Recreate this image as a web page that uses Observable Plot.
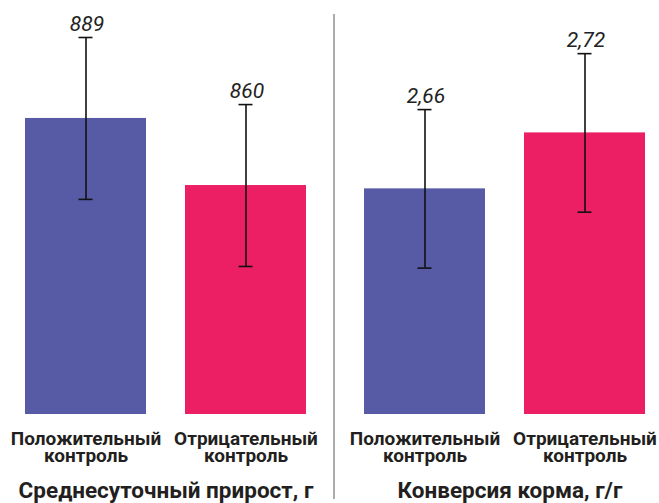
<!DOCTYPE html>
<html><head><meta charset="utf-8">
<script src="https://cdn.jsdelivr.net/npm/d3@7"></script>
<script src="https://cdn.jsdelivr.net/npm/@observablehq/plot@0.6"></script>
<style>
body{margin:0;background:#fff;}
#wrap{position:relative;width:659px;height:503px;overflow:hidden;font-family:Roboto,sans-serif;background:#fff;}
#left{position:absolute;left:0;top:0;}
#right{position:absolute;left:335px;top:0;}
#sep{position:absolute;left:333px;top:14px;width:2px;height:485px;background:#acacac;}
.title{position:absolute;top:476px;font-weight:700;font-size:22.5px;line-height:28px;color:#231f20;text-align:center;white-space:nowrap;}
</style></head>
<body><div id="wrap">
<div id="left"></div>
<div id="right"></div>
<div id="sep"></div>
<div class="title" id="t1" style="left:0;width:332px;"></div>
<div class="title" id="t2" style="left:362px;width:296px;"></div>
</div>
<script>
const categories = ["Положительный контроль", "Отрицательный контроль"];
const colors = ["#575ba6", "#ed1f64"];

const gainTitle = "Среднесуточный прирост, г";
const gainValues = [889, 860];
const gainErrors = [35, 35];
const gainLabels = ["889", "860"];
const gainDomain = [761, 940];

const fcrTitle = "Конверсия корма, г/г";
const fcrValues = [2.66, 2.72];
const fcrErrors = [0.085, 0.085];
const fcrLabels = ["2,66", "2,72"];
const fcrDomain = [2.418, 2.862];

function panel(values, errors, labels, domain, width, ml, mr) {
  const data = categories.map((c, i) => ({
    cat: c, value: values[i], lo: values[i] - errors[i], hi: values[i] + errors[i], label: labels[i]
  }));
  const capInset = 53.5;
  return Plot.plot({
    width, height: 470,
    marginTop: 0, marginBottom: 56, marginLeft: ml, marginRight: mr,
    style: {fontFamily: "Roboto, sans-serif", overflow: "visible", background: "transparent"},
    x: {domain: categories, paddingInner: 0.244, paddingOuter: 0},
    y: {domain, axis: null},
    color: {domain: categories, range: colors},
    marks: [
      Plot.barY(data, {x: "cat", y1: domain[0], y2: "value", fill: "cat"}),
      Plot.ruleX(data, {x: "cat", y1: "lo", y2: "hi", stroke: "#111", strokeWidth: 1.6}),
      Plot.tickY(data, {x: "cat", y: "lo", stroke: "#111", strokeWidth: 1.6, insetLeft: capInset, insetRight: capInset}),
      Plot.tickY(data, {x: "cat", y: "hi", stroke: "#111", strokeWidth: 1.6, insetLeft: capInset, insetRight: capInset}),
      Plot.text(data, {x: "cat", y: "hi", text: "label", lineAnchor: "bottom", dy: -7, dx: 1,
        fontSize: 21, fontStyle: "italic", fill: "#222"}),
      Plot.axisX({tickSize: 0, tickPadding: 17.5, tickFormat: d => d.replace(" ", "\n"),
        fontSize: 19, fontWeight: "bold", lineHeight: 0.93, fill: "#231f20", label: null})
    ]
  });
}

document.getElementById("left").append(panel(gainValues, gainErrors, gainLabels, gainDomain, 335, 25, 29));
document.getElementById("right").append(panel(fcrValues, fcrErrors, fcrLabels, fcrDomain, 324, 29, 14));
document.getElementById("t1").textContent = gainTitle;
document.getElementById("t2").textContent = fcrTitle;
</script>
</body></html>
